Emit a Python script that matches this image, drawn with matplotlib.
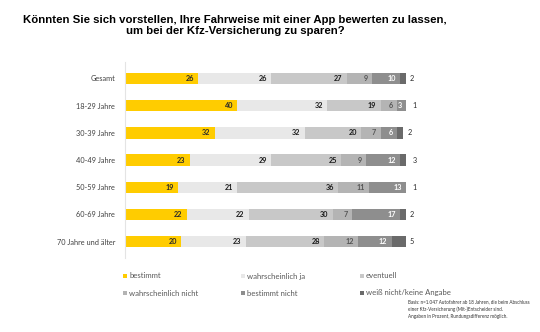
import matplotlib.pyplot as plt
from matplotlib.patches import Rectangle

# Umfrage: App-Bewertung der Fahrweise, Antworten in Prozent
groups = ["Gesamt", "18-29 Jahre", "30-39 Jahre", "40-49 Jahre",
          "50-59 Jahre", "60-69 Jahre", "70 Jahre und älter"]
answers = ["bestimmt", "wahrscheinlich ja", "eventuell",
           "wahrscheinlich nicht", "bestimmt nicht", "weiß nicht/keine Angabe"]

bestimmt = [26, 40, 32, 23, 19, 22, 20]
wahrscheinlich_ja = [26, 32, 32, 29, 21, 22, 23]
eventuell = [27, 19, 20, 25, 36, 30, 28]
wahrscheinlich_nicht = [9, 6, 7, 9, 11, 7, 12]
bestimmt_nicht = [10, 3, 6, 12, 13, 17, 12]
weiss_nicht = [2, 1, 2, 3, 1, 2, 5]

series = [bestimmt, wahrscheinlich_ja, eventuell,
          wahrscheinlich_nicht, bestimmt_nicht, weiss_nicht]
colors = ["#FFCC00", "#E8E8E8", "#C8C8C8", "#B4B4B4", "#8E8E8E", "#6A6A6A"]
text_colors = ["#2a2a2a", "#1a1a1a", "#1a1a1a", "#555555", "white", "#2a2a2a"]

plt.rcParams["font.family"] = ["Lato", "DejaVu Sans"]

fig = plt.figure(figsize=(5.4, 3.32), dpi=100)
ax = fig.add_axes([0.2315, 0.223, 0.52, 0.59])

left = [0] * len(groups)
for k, (vals, col) in enumerate(zip(series, colors)):
    ax.barh(range(len(groups)), vals, left=left, height=0.42, color=col,
            edgecolor="none")
    for i, v in enumerate(vals):
        end = left[i] + v
        if k == len(series) - 1:
            ax.text(end + 1.5, i, str(v), ha="left", va="center",
                    fontsize=5.2, color=text_colors[k])
        else:
            ax.text(end - 1.5, i, str(v), ha="right", va="center",
                    fontsize=5.2, fontweight="bold", color=text_colors[k])
    left = [a + b for a, b in zip(left, vals)]

ax.set_xlim(0, 100)
ax.set_ylim(6.6, -0.6)
ax.set_yticks(range(len(groups)))
ax.set_yticklabels(groups, fontsize=5.3, color="#404040")
ax.tick_params(axis="y", length=0, pad=7)
ax.set_xticks([])
for s in ["top", "right", "bottom"]:
    ax.spines[s].set_visible(False)
ax.spines["left"].set_color("#e4e4e4")
ax.spines["left"].set_linewidth(0.8)

fig.text(0.435, 0.955,
         "Könnten Sie sich vorstellen, Ihre Fahrweise mit einer App bewerten zu lassen,\n"
         "um bei der Kfz-Versicherung zu sparen?",
         ha="center", va="top", fontsize=8.2, fontweight="bold",
         family="Liberation Sans", linespacing=1.1)

# Legende in zwei Zeilen zu je drei Einträgen
leg_x = [125, 243, 362]
leg_y = [276, 293]
W, H = 540, 332
for k, (name, col) in enumerate(zip(answers, colors)):
    x = leg_x[k % 3]
    y = leg_y[k // 3]
    fig.patches.append(Rectangle((x / W - 2 / W, 1 - (y + 2) / H), 4 / W, 4 / H,
                                 transform=fig.transFigure, facecolor=col,
                                 edgecolor="none"))
    fig.text((x + 4) / W, 1 - y / H, name, ha="left", va="center",
             fontsize=5.6, color="#595959")

fig.text(408 / W, 1 - 299 / H,
         "Basis: n=1.047 Autofahrer ab 18 Jahren, die beim Abschluss\n"
         "einer Kfz-Versicherung (Mit-)Entscheider sind.\n"
         "Angaben in Prozent, Rundungsdifferenz möglich.",
         ha="left", va="top", fontsize=3.3, color="#333333", linespacing=1.5)

fig.savefig("out.png", dpi=100)
